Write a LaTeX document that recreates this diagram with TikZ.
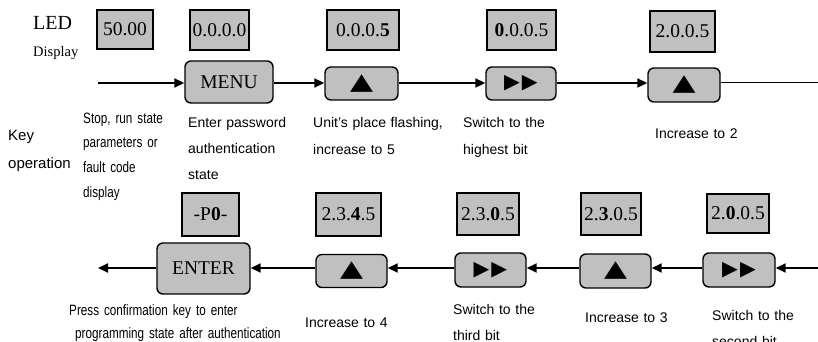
\documentclass[tikz,border=0pt]{standalone}
\usepackage{fontspec}
\setmainfont{Liberation Serif}
\setsansfont{Liberation Sans}
\newfontfamily\narrowfont[FakeStretch=0.78]{Liberation Sans}
\newfontfamily\symfont{DejaVu Sans}
\newfontfamily\widesym[FakeStretch=1.3]{DejaVu Sans}
\usetikzlibrary{arrows.meta}
\definecolor{boxgray}{RGB}{192,192,192}
\begin{document}
\begin{tikzpicture}[x=1pt,y=-1pt,
  disp/.style={draw, line width=1.4pt, fill=boxgray, inner sep=0pt, font=\fontsize{19.5}{22}\selectfont},
  keybox/.style={draw, line width=1.4pt, fill=boxgray, rounded corners=6pt, inner sep=0pt},
  keytxt/.style={font=\fontsize{19.5}{22}\selectfont},
  uptxt/.style={font=\widesym\fontsize{23}{24}\selectfont},
  fwdtxt/.style={font=\symfont\fontsize{20.5}{22}\selectfont},
  arr/.style={line width=1.8pt, -{Triangle[length=10pt,width=9pt]}},
  lab/.style={anchor=base west, inner sep=0pt, text width=250pt, align=left, font=\sffamily\fontsize{14}{26}\selectfont},
  nlab/.style={anchor=base west, inner sep=0pt, text width=250pt, align=left, font=\narrowfont\fontsize{15}{24.7}\selectfont},
]
\useasboundingbox (0,0) rectangle (818,342);

% headings
\node[anchor=base west, inner sep=0pt, font=\fontsize{20}{24}\selectfont] (led) at (33,30) {LED};
\node[anchor=base west, inner sep=0pt, font=\fontsize{14.5}{17}\selectfont] (disp) at (33,57) {Display};
\node[lab, font=\sffamily\fontsize{15}{28}\selectfont] (keyop) at (8,140) {Key\\operation};

% top displays
\node[disp, minimum width=56pt, minimum height=39pt] (d1) at (125,29.5) {50.00};
\node[disp, minimum width=59pt, minimum height=40pt] (d2) at (219.5,30) {0.0.0.0};
\node[disp, minimum width=72pt, minimum height=40pt] (d3) at (363,30) {0.0.0.\textbf{5}};
\node[disp, minimum width=69pt, minimum height=40pt] (d4) at (521.5,30) {\textbf{0}.0.0.5};
\node[disp, minimum width=65pt, minimum height=41pt] (d5) at (682.5,31.5) {2.0.0.5};

% top keys
\coordinate (tin) at (98,83);
\coordinate (tout) at (818,82);
\node[keybox, keytxt, minimum width=88pt, minimum height=42pt] (k1) at (229,82) {MENU};
\node[keybox, uptxt, minimum width=73pt, minimum height=33pt] (k2) at (361.5,83.5) {▲};
\node[keybox, fwdtxt, minimum width=70pt, minimum height=33pt] (k3) at (521,83.5) {▶\kern2pt▶};
\node[keybox, uptxt, minimum width=72pt, minimum height=34pt] (k4) at (684,85) {▲};

\draw[arr] (tin) -- (k1.west |- tin);
\draw[arr] (k1.east |- tin) -- (k2.west |- tin);
\draw[arr] (k2.east |- tin) -- (k3.west |- tin);
\draw[arr] (k3.east |- tin) -- (k4.west |- tin);
\draw[line width=0.9pt] (k4.east |- tout) -- (tout);

% top labels
\node[nlab] (l1) at (83,123) {Stop, run state\\parameters or\\fault code\\display};
\node[lab] (l2) at (188,127) {Enter password\\authentication\\state};
\node[lab] (l3) at (313,128) {Unit's place flashing,\\increase to 5};
\node[lab] (l4) at (463,128) {Switch to the\\highest bit};
\node[lab] (l5) at (655,138) {Increase to 2};

% bottom displays
\node[disp, minimum width=57pt, minimum height=43pt] (d6) at (210.5,214.5) {-P\textbf{0}-};
\node[disp, minimum width=65pt, minimum height=43pt] (d7) at (348.5,214.5) {2.3.\textbf{4}.5};
\node[disp, minimum width=62pt, minimum height=42pt] (d8) at (488,214) {2.3.\textbf{0}.5};
\node[disp, minimum width=60pt, minimum height=42pt] (d9) at (611,214) {2.\textbf{3}.0.5};
\node[disp, minimum width=62pt, minimum height=39pt] (d10) at (738,213.5) {2.\textbf{0}.0.5};

% bottom keys
\coordinate (bin) at (818,268);
\coordinate (bout) at (98,268);
\node[keybox, keytxt, minimum width=93pt, minimum height=51pt] (k5) at (203.5,268.5) {ENTER};
\node[keybox, uptxt, minimum width=71pt, minimum height=33pt] (k6) at (351.5,271) {▲};
\node[keybox, fwdtxt, minimum width=71pt, minimum height=34pt] (k7) at (490.5,270) {▶\kern2pt▶};
\node[keybox, uptxt, minimum width=71pt, minimum height=34pt] (k8) at (615.5,271) {▲};
\node[keybox, fwdtxt, minimum width=72pt, minimum height=34pt] (k9) at (739,270) {▶\kern2pt▶};

\draw[arr] (bin) -- (k9.east |- bin);
\draw[arr] (k9.west |- bin) -- (k8.east |- bin);
\draw[arr] (k8.west |- bin) -- (k7.east |- bin);
\draw[arr] (k7.west |- bin) -- (k6.east |- bin);
\draw[arr] (k6.west |- bin) -- (k5.east |- bin);
\draw[arr] (k5.west |- bin) -- (bout);

% bottom labels
\node[nlab] (l6) at (69,315) {Press confirmation key to enter};
\node[nlab] (l6b) at (75,338) {programming state after authentication};
\node[lab] (l7) at (305,327) {Increase to 4};
\node[lab] (l8) at (453,314) {Switch to the\\third bit};
\node[lab] (l9) at (585,322) {Increase to 3};
\node[lab] (l10) at (712,320) {Switch to the\\second bit};
\end{tikzpicture}
\end{document}
